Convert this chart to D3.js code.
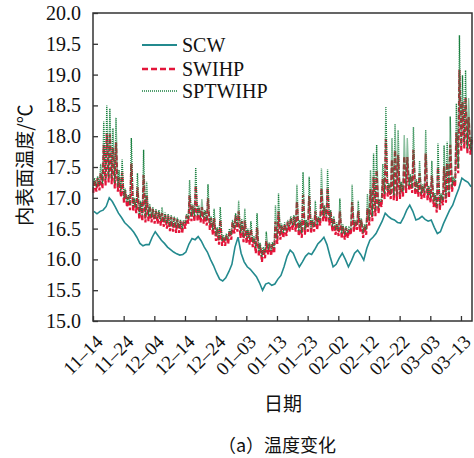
<!DOCTYPE html>
<html>
<head>
<meta charset="utf-8">
<script src="https://cdn.jsdelivr.net/npm/d3@7/dist/d3.min.js"></script>
<style>
  body { margin: 0; background: #fff; }
  svg { display: block; }
</style>
</head>
<body>
<svg id="chart" width="474" height="458"></svg>
<script>
// Inner surface temperature, daily readings from 2019-11-14 (day 0) to 2020-03-16
const startDay = "2019-11-14";

const seriesNames = ["SCW", "SWIHP", "SPTWIHP"];

// SCW: smooth daily level
const scw = [
  16.78, 16.74, 16.78, 16.80, 16.86, 17.00, 16.94, 16.85, 16.75, 16.68,
  16.60, 16.55, 16.50, 16.44, 16.36, 16.26, 16.22, 16.24, 16.24, 16.36,
  16.45, 16.38, 16.31, 16.26, 16.20, 16.16, 16.12, 16.09, 16.07, 16.08,
  16.12, 16.25, 16.34, 16.32, 16.37, 16.30, 16.20, 16.12, 16.00, 15.90,
  15.78, 15.68, 15.65, 15.70, 15.80, 15.92, 16.20, 16.36, 16.10, 15.96,
  15.88, 15.84, 15.78, 15.72, 15.62, 15.50, 15.60, 15.62, 15.58, 15.60,
  15.68, 15.74, 15.88, 16.05, 16.15, 16.10, 15.98, 15.88, 15.96, 16.05,
  16.10, 16.08, 16.16, 16.25, 16.30, 16.36, 16.24, 16.05, 15.88, 15.92,
  16.02, 16.10, 16.00, 15.88, 15.98, 16.10, 16.15, 16.08, 15.99, 16.18,
  16.31, 16.36, 16.42, 16.52, 16.62, 16.75, 16.70, 16.66, 16.64, 16.60,
  16.59, 16.68, 16.80, 16.88, 16.78, 16.64, 16.66, 16.70, 16.65, 16.62,
  16.64, 16.52, 16.42, 16.45, 16.58, 16.69, 16.80, 16.88, 17.02, 17.15,
  17.32, 17.28, 17.25, 17.18
];

// SWIHP: daily minimum and maximum
const swihpLow = [
  17.08, 17.10, 17.12, 17.15, 17.20, 17.25, 17.22, 17.15, 17.10, 17.02,
  16.92, 16.85, 16.80, 16.78, 16.75, 16.65, 16.62, 16.60, 16.62, 16.60,
  16.58, 16.58, 16.55, 16.53, 16.50, 16.46, 16.45, 16.43, 16.43, 16.42,
  16.50, 16.58, 16.62, 16.62, 16.62, 16.60, 16.58, 16.55, 16.48, 16.40,
  16.30, 16.24, 16.22, 16.22, 16.25, 16.32, 16.42, 16.45, 16.35, 16.28,
  16.26, 16.24, 16.20, 16.10, 16.05, 15.96, 16.02, 16.08, 16.06, 16.10,
  16.25, 16.32, 16.35, 16.38, 16.45, 16.48, 16.45, 16.38, 16.35, 16.40,
  16.45, 16.42, 16.45, 16.48, 16.55, 16.62, 16.60, 16.55, 16.45, 16.40,
  16.38, 16.34, 16.32, 16.35, 16.40, 16.45, 16.48, 16.45, 16.35, 16.40,
  16.55, 16.62, 16.70, 16.75, 16.85, 16.98, 17.02, 16.98, 16.96, 16.95,
  16.98, 17.02, 17.08, 17.12, 17.08, 17.05, 17.02, 16.98, 17.00, 16.96,
  16.92, 16.85, 16.76, 16.80, 16.88, 16.92, 17.00, 17.10, 17.18, 17.40,
  17.75, 17.80, 17.72, 17.70
];
const swihpHigh = [
  17.29, 17.32, 17.40, 17.86, 18.05, 18.03, 17.81, 17.90, 17.33, 17.41,
  17.12, 17.02, 17.56, 16.97, 17.17, 16.92, 17.37, 17.03, 16.87, 16.82,
  16.79, 16.77, 16.75, 16.73, 16.71, 16.69, 16.67, 16.65, 16.62, 16.61,
  16.71, 17.04, 16.87, 17.19, 16.85, 16.85, 16.77, 16.99, 16.67, 16.67,
  16.49, 16.64, 16.37, 16.39, 16.47, 16.61, 16.71, 16.78, 16.62, 16.63,
  16.47, 16.49, 16.35, 16.52, 16.24, 16.17, 16.30, 16.25, 16.25, 16.61,
  16.78, 16.54, 16.57, 16.61, 16.67, 16.69, 16.94, 16.61, 17.05, 16.61,
  17.03, 16.63, 16.78, 16.67, 17.15, 16.85, 17.16, 16.77, 16.67, 16.57,
  16.78, 16.54, 16.51, 16.49, 16.93, 16.61, 16.79, 16.64, 16.54, 16.83,
  17.14, 17.34, 17.45, 16.95, 17.31, 17.96, 17.21, 17.62, 17.77, 17.70,
  17.23, 17.67, 17.66, 17.35, 17.78, 17.27, 17.40, 17.19, 17.72, 17.17,
  17.36, 17.05, 17.49, 17.04, 17.51, 17.56, 17.86, 17.29, 18.06, 19.08,
  18.56, 18.63, 18.31, 17.95
];

// SPTWIHP: daily minimum and maximum
const sptwihpLow = [
  17.16, 17.18, 17.20, 17.23, 17.28, 17.33, 17.30, 17.23, 17.18, 17.10,
  17.00, 16.93, 16.88, 16.86, 16.83, 16.73, 16.70, 16.68, 16.70, 16.68,
  16.66, 16.66, 16.63, 16.61, 16.58, 16.54, 16.53, 16.51, 16.51, 16.50,
  16.58, 16.66, 16.70, 16.70, 16.70, 16.68, 16.66, 16.63, 16.56, 16.48,
  16.38, 16.32, 16.30, 16.30, 16.33, 16.40, 16.50, 16.53, 16.43, 16.36,
  16.34, 16.32, 16.28, 16.18, 16.13, 16.04, 16.10, 16.16, 16.14, 16.18,
  16.33, 16.40, 16.43, 16.46, 16.53, 16.56, 16.53, 16.46, 16.43, 16.48,
  16.53, 16.50, 16.53, 16.56, 16.63, 16.70, 16.68, 16.63, 16.53, 16.48,
  16.46, 16.42, 16.40, 16.43, 16.48, 16.53, 16.56, 16.53, 16.43, 16.48,
  16.63, 16.70, 16.78, 16.83, 16.93, 17.06, 17.10, 17.06, 17.04, 17.03,
  17.06, 17.10, 17.16, 17.20, 17.16, 17.13, 17.10, 17.06, 17.08, 17.04,
  17.00, 16.93, 16.84, 16.88, 16.96, 17.00, 17.08, 17.18, 17.26, 17.48,
  17.83, 17.88, 17.80, 17.78
];
const sptwihpHigh = [
  17.32, 17.35, 17.55, 18.24, 18.50, 18.45, 18.13, 18.30, 17.45, 17.62,
  17.15, 17.05, 17.97, 17.00, 17.40, 16.95, 17.78, 17.26, 16.90, 16.85,
  16.82, 16.80, 16.85, 16.76, 16.74, 16.72, 16.70, 16.68, 16.65, 16.64,
  16.74, 17.29, 16.90, 17.49, 16.88, 16.98, 16.80, 17.22, 16.70, 16.82,
  16.52, 16.85, 16.40, 16.42, 16.50, 16.64, 16.75, 16.95, 16.65, 16.82,
  16.50, 16.62, 16.38, 16.75, 16.27, 16.20, 16.45, 16.28, 16.28, 16.88,
  17.07, 16.58, 16.60, 16.64, 16.70, 16.72, 17.21, 16.64, 17.42, 16.64,
  17.34, 16.66, 16.95, 16.70, 17.48, 16.88, 17.46, 16.80, 16.70, 16.60,
  16.99, 16.57, 16.54, 16.52, 17.21, 16.64, 16.95, 16.67, 16.57, 17.06,
  17.45, 17.72, 17.86, 16.98, 17.55, 18.48, 17.24, 17.97, 18.20, 18.10,
  17.26, 18.02, 17.97, 17.38, 18.15, 17.30, 17.60, 17.22, 18.10, 17.20,
  17.60, 17.08, 17.88, 17.07, 17.85, 17.91, 18.32, 17.32, 18.53, 19.64,
  18.99, 19.07, 18.62, 18.00
];

const xTickLabels = ["11-14", "11-24", "12-04", "12-14", "12-24", "01-03", "01-13",
                     "01-23", "02-02", "02-12", "02-22", "03-03", "03-13"];
const yTickValues = [15.0, 15.5, 16.0, 16.5, 17.0, 17.5, 18.0, 18.5, 19.0, 19.5, 20.0];

// ---- layout ----
const W = 474, H = 458;
const plot = { left: 93, right: 472, top: 13, bottom: 321 };
const DAY = 864e5;
const t0 = d3.utcParse("%Y-%m-%d")(startDay);
const dayToDate = d => new Date(t0.getTime() + d * DAY);
const labelToDate = s => {
  const m = +s.slice(0, 2);
  return d3.utcParse("%Y-%m-%d")((m >= 11 ? "2019-" : "2020-") + s);
};

const x = d3.scaleUtc()
  .domain([t0, dayToDate(123.6)])
  .range([plot.left, plot.right]);
const y = d3.scaleLinear().domain([15, 20]).range([plot.bottom, plot.top]);

const svg = d3.select("#chart");
const serif = "'Liberation Serif', 'Times New Roman', serif";
const cjk = "'Noto Sans CJK SC', 'Noto Sans', sans-serif";

const colors = { SCW: "#238a8e", SWIHP: "#e3153a", SPTWIHP: "#1a8040" };

// daily low/high pairs become a trace: minimum early in the day, peak in the afternoon
function dailyTrace(low, high) {
  const pts = [];
  low.forEach((v, i) => {
    pts.push({ t: dayToDate(i + 0.1), v: v });
    pts.push({ t: dayToDate(i + 0.5), v: high[i] });
  });
  return pts;
}
const scwPts = scw.map((v, i) => ({ t: dayToDate(i + 0.3), v }));

const line = d3.line().x(d => x(d.t)).y(d => y(d.v));

const g = svg.append("g");
g.append("path").datum(scwPts)
  .attr("d", line).attr("fill", "none")
  .attr("stroke", colors.SCW).attr("stroke-width", 1.6);
g.append("path").datum(dailyTrace(swihpLow, swihpHigh))
  .attr("d", line).attr("fill", "none")
  .attr("stroke", colors.SWIHP).attr("stroke-width", 2.2)
  .attr("stroke-dasharray", "5,2");
g.append("path").datum(dailyTrace(sptwihpLow, sptwihpHigh))
  .attr("d", line).attr("fill", "none")
  .attr("stroke", colors.SPTWIHP).attr("stroke-width", 1.4)
  .attr("stroke-dasharray", "1,1");

// ---- axes ----
const axisColor = "#333";
const xAxis = d3.axisBottom(x)
  .tickValues(xTickLabels.map(labelToDate))
  .tickSizeInner(-5).tickSizeOuter(0)
  .tickFormat(() => "");
const gx = svg.append("g").attr("transform", `translate(0,${plot.bottom})`).call(xAxis);
gx.select(".domain").remove();
gx.selectAll(".tick line").attr("stroke", axisColor).attr("stroke-width", 1.3);

svg.append("g").selectAll("text").data(xTickLabels).join("text")
  .attr("transform", d => `translate(${x(labelToDate(d)) + 11},${plot.bottom + 22}) rotate(-45)`)
  .attr("text-anchor", "end")
  .attr("font-family", serif).attr("font-size", 19).attr("fill", "#111")
  .text(d => d.replace("-", "\u2013"));

const yAxis = d3.axisLeft(y)
  .tickValues(yTickValues)
  .tickSizeInner(-5).tickSizeOuter(0)
  .tickPadding(12)
  .tickFormat(d3.format(".1f"));
const gy = svg.append("g").attr("transform", `translate(${plot.left},0)`).call(yAxis);
gy.select(".domain").remove();
gy.selectAll(".tick line").attr("stroke", axisColor).attr("stroke-width", 1.3);
gy.selectAll(".tick text")
  .attr("font-family", serif).attr("font-size", 20).attr("fill", "#111");

// frame
svg.append("rect")
  .attr("x", plot.left).attr("y", plot.top)
  .attr("width", plot.right - plot.left).attr("height", plot.bottom - plot.top)
  .attr("fill", "none").attr("stroke", axisColor).attr("stroke-width", 1.5);

// ---- titles ----
svg.append("text")
  .attr("transform", `translate(32,165) rotate(-90)`)
  .attr("text-anchor", "middle")
  .attr("font-family", cjk).attr("font-size", 19).attr("fill", "#111")
  .text("内表面温度/℃");

svg.append("text")
  .attr("x", 283).attr("y", 411)
  .attr("text-anchor", "middle")
  .attr("font-family", cjk).attr("font-size", 19).attr("fill", "#111")
  .text("日期");

svg.append("text")
  .attr("x", 277).attr("y", 452)
  .attr("text-anchor", "middle")
  .attr("font-family", cjk).attr("font-size", 18).attr("fill", "#111")
  .text("（a）温度变化");

// ---- legend ----
const legendStyles = {
  SCW: { width: 1.8, dash: null },
  SWIHP: { width: 2.6, dash: "6,3" },
  SPTWIHP: { width: 1.6, dash: "1,1" }
};
const legendY = [45, 69, 91];
const lg = svg.append("g");
seriesNames.forEach((name, i) => {
  lg.append("line")
    .attr("x1", 142).attr("x2", 177)
    .attr("y1", legendY[i]).attr("y2", legendY[i])
    .attr("stroke", colors[name])
    .attr("stroke-width", legendStyles[name].width)
    .attr("stroke-dasharray", legendStyles[name].dash);
  lg.append("text")
    .attr("x", 182).attr("y", legendY[i]).attr("dy", "0.35em")
    .attr("font-family", serif).attr("font-size", 20).attr("fill", "#111")
    .text(name);
});
</script>
</body>
</html>
